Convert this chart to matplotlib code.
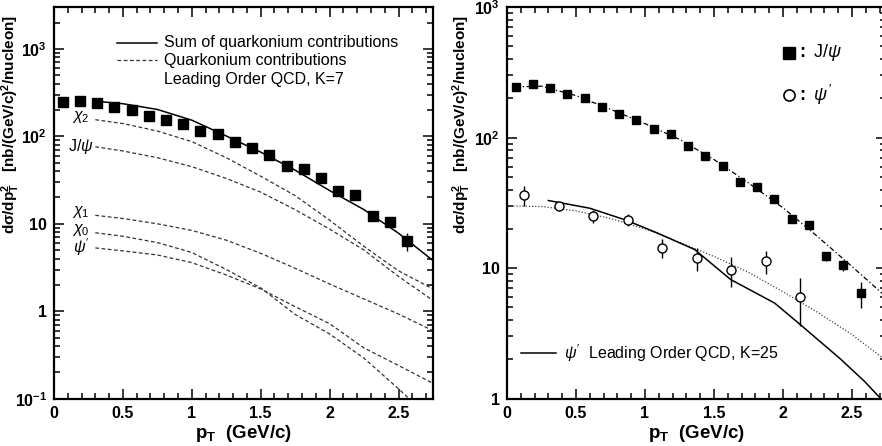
import matplotlib
matplotlib.use("Agg")
import matplotlib.pyplot as plt
from matplotlib.ticker import FixedLocator, MultipleLocator, LogLocator, NullFormatter

plt.rcParams["font.family"] = ["Liberation Sans", "DejaVu Sans"]
plt.rcParams["mathtext.fontset"] = "custom"
plt.rcParams["mathtext.rm"] = "Liberation Sans"
plt.rcParams["mathtext.it"] = "Liberation Sans:italic"
plt.rcParams["mathtext.bf"] = "Liberation Sans:bold"

# J/psi data (both panels)
pt_jpsi = [0.0625, 0.1875, 0.3125, 0.4375, 0.5625, 0.6875, 0.8125, 0.9375, 1.0625,
           1.1875, 1.3125, 1.4375, 1.5625, 1.6875, 1.8125, 1.9375, 2.0625, 2.1875,
           2.3125, 2.4375, 2.5625]
jpsi_vals = [245, 256, 241, 215, 202, 171, 153, 137, 116, 107, 86, 73, 61, 46, 42,
             33.6, 24, 21.6, 12.4, 10.5, 6.4]
jpsi_err = [3, 3, 3, 3, 3, 3, 3, 2, 2, 2, 2, 2, 2, 1.5, 1.5, 1.5, 1, 1, 1, 1, 1.45]

# psi' data (right panel)
pt_psip = [0.125, 0.375, 0.625, 0.875, 1.125, 1.375, 1.625, 1.875, 2.125]
psip_vals = [36.5, 29.7, 24.9, 23.4, 14.3, 11.9, 9.7, 11.3, 6.0]
psip_err = [6.5, 2.5, 2.8, 2.5, 2.3, 2.4, 2.5, 2.3, 2.4]

# left panel: LO QCD, K=7 contributions
pt_theory = [0.3, 0.5, 0.75, 1.0, 1.25, 1.5, 1.75, 2.0, 2.25, 2.5, 2.75]
sum_vals = [252, 236, 203, 153, 101, 66, 41, 24, 14.5, 7.8, 3.8]
chi2_vals = [155, 140, 115, 87, 57, 35, 21, 11, 5.5, 2.9, 1.8]
jpsi_dir_vals = [76, 68, 57, 45, 33, 23, 14.5, 8.7, 5.0, 2.5, 1.33]
chi1_vals = [12.5, 11.5, 10, 8.4, 6.5, 4.6, 3.1, 2.05, 1.38, 0.93, 0.6]
chi0_vals = [7.9, 7.2, 6.1, 4.7, 3.0, 1.85, 0.92, 0.55, 0.29, 0.13, 0.055]
psip_dir_vals = [5.3, 4.9, 4.4, 3.6, 2.6, 1.8, 1.13, 0.72, 0.38, 0.24, 0.15]
curve_labels = [r"$\chi_2$", r"J/$\psi$", r"$\chi_1$", r"$\chi_0$", r"$\psi^\prime$"]
label_y = [168, 76, 13.5, 8.6, 5.4]

# right panel fits
pt_fit_jpsi = [0.06, 0.25, 0.5, 0.75, 1.0, 1.25, 1.5, 1.75, 2.0, 2.25, 2.5, 2.75]
fit_jpsi = [245, 248, 210, 165, 128, 97, 68, 45, 29, 17.5, 10.3, 6.0]
pt_fit_psip = [0.0, 0.25, 0.5, 0.75, 1.0, 1.25, 1.5, 1.75, 2.0, 2.25, 2.5, 2.75]
fit_psip = [30, 29.7, 27.5, 24, 20, 15.8, 12.3, 9.3, 6.6, 4.6, 3.1, 1.95]
pt_qcd_psip = [0.3, 0.6, 0.86, 1.09, 1.36, 1.62, 1.94, 2.125, 2.42, 2.59, 2.75]
qcd_psip = [33, 28.8, 23.4, 18.6, 13.9, 8.2, 5.4, 3.7, 2.0, 1.36, 0.9]

dash = (0, (3, 2))
ylab = r"d$\mathbf{\sigma}$/dp$_\mathbf{T}^\mathbf{2}$   [nb/(GeV/c)$^\mathbf{2}$/nucleon]"


def style_axes(ax, yticks, ylabels, ylim, label_x):
    ax.set_xlim(0, 2.75)
    ax.set_yscale("log")
    ax.set_ylim(*ylim)
    ax.xaxis.set_major_locator(FixedLocator([0, 0.5, 1, 1.5, 2, 2.5]))
    ax.set_xticklabels(["0", "0.5", "1", "1.5", "2", "2.5"], fontweight="bold")
    ax.xaxis.set_minor_locator(MultipleLocator(0.1))
    ax.yaxis.set_major_locator(FixedLocator(yticks))
    ax.set_yticklabels(ylabels, fontweight="bold")
    ax.yaxis.set_minor_locator(LogLocator(base=10, subs=range(2, 10)))
    ax.yaxis.set_minor_formatter(NullFormatter())
    ax.tick_params(which="both", direction="in", top=True, right=True,
                   labelsize=11.5, width=1.1, pad=5)
    ax.tick_params(which="major", length=7)
    ax.tick_params(which="minor", length=4)
    for s in ax.spines.values():
        s.set_linewidth(1.6)
    ax.set_xlabel(r"p$_\mathbf{T}$  (GeV/c)", fontsize=13.5, fontweight="bold",
                  labelpad=2)
    ax.set_ylabel(ylab, fontsize=11, fontweight="bold")
    ax.yaxis.set_label_coords(label_x, 0.70)


fig = plt.figure(figsize=(8.82, 4.46), dpi=100)
ax1 = fig.add_axes([0.0612, 0.106, 0.4297, 0.878])
ax2 = fig.add_axes([0.5748, 0.106, 0.4303, 0.878])

# ---- left panel
ax1.plot(pt_theory, sum_vals, "-", color="black", lw=1.1)
for vals in [chi2_vals, jpsi_dir_vals, chi1_vals, chi0_vals, psip_dir_vals]:
    ax1.plot(pt_theory, vals, linestyle=dash, color="#333333", lw=0.9)
ax1.errorbar(pt_jpsi, jpsi_vals, yerr=jpsi_err, fmt="s", color="black", ms=7,
             elinewidth=1, capsize=0, zorder=5)
for lab, y in zip(curve_labels, label_y):
    ax1.text(0.195, y, lab, ha="center", va="center", fontsize=11.5)

ax1.plot([0.166, 0.272], [0.909, 0.909], "-", color="black", lw=1.1,
         transform=ax1.transAxes)
ax1.plot([0.166, 0.272], [0.865, 0.865], linestyle=dash, color="#333333", lw=0.9,
         transform=ax1.transAxes)
ax1.text(0.29, 0.909, "Sum of quarkonium contributions", transform=ax1.transAxes,
         va="center", fontsize=11.5)
ax1.text(0.29, 0.865, "Quarkonium contributions", transform=ax1.transAxes,
         va="center", fontsize=11.5)
ax1.text(0.29, 0.816, "Leading Order QCD, K=7", transform=ax1.transAxes,
         va="center", fontsize=11.5)

style_axes(ax1, [0.1, 1, 10, 100, 1000],
           [r"$\mathbf{10^{-1}}$", "1", "10", r"$\mathbf{10^{2}}$", r"$\mathbf{10^{3}}$"],
           (0.1, 3000), -0.084)

# ---- right panel
ax2.plot(pt_fit_jpsi, fit_jpsi, linestyle=(0, (4, 2, 1, 2)), color="black", lw=0.9)
ax2.plot(pt_fit_psip, fit_psip, linestyle=(0, (1, 1.5)), color="#444444", lw=0.9)
ax2.plot(pt_qcd_psip, qcd_psip, "-", color="black", lw=1.1)
ax2.errorbar(pt_jpsi, jpsi_vals, yerr=jpsi_err, fmt="s", color="black", ms=5.5,
             elinewidth=1, capsize=0, zorder=5)
ax2.errorbar(pt_psip, psip_vals, yerr=psip_err, fmt="o", color="black", mfc="white",
             mec="black", ms=6.5, mew=1, elinewidth=1, capsize=0, zorder=5)

ax2.plot([2.04], [447], "s", color="black", ms=8)
ax2.text(2.1, 447, r"$\mathbf{:}$ J/$\psi$", va="center", fontsize=13)
ax2.plot([2.04], [213], "o", mfc="white", mec="black", ms=8, mew=1.2)
ax2.text(2.1, 213, r"$\mathbf{:}$ $\psi^\prime$", va="center", fontsize=13)

ax2.plot([0.10, 0.355], [2.24, 2.24], "-", color="black", lw=1.1)
ax2.text(0.41, 2.24, r"$\psi^\prime$  Leading Order QCD, K=25", va="center",
         fontsize=11.5)

style_axes(ax2, [1, 10, 100, 1000],
           ["1", "10", r"$\mathbf{10^{2}}$", r"$\mathbf{10^{3}}$"], (1, 1000), -0.090)

fig.savefig("out.png", dpi=100)
